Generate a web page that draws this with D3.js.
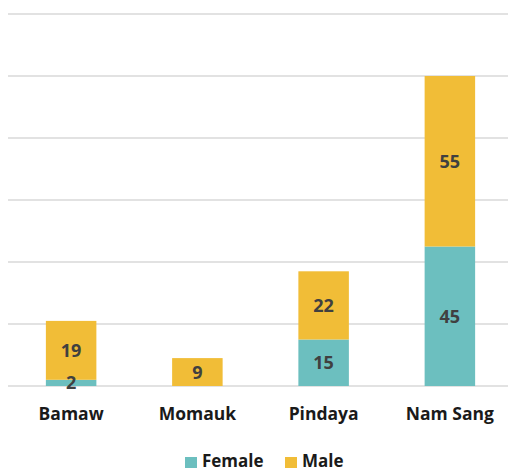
<!DOCTYPE html>
<html>
<head>
<meta charset="utf-8">
<script src="https://cdn.jsdelivr.net/npm/d3@7"></script>
<style>
  body { margin: 0; background: #fff; }
  text { font-family: "Open Sans", sans-serif; font-weight: bold; }
</style>
</head>
<body>
<div id="chart"></div>
<script>
// data
var townships = ["Bamaw", "Momauk", "Pindaya", "Nam Sang"];
var female = [2, 0, 15, 45];
var male = [19, 9, 22, 55];
var seriesNames = ["Female", "Male"];
var yTicks = [0, 20, 40, 60, 80, 100, 120];

var colors = { Female: "#6cbfbf", Male: "#f1bd37" };

var width = 508, height = 471;

var svg = d3.select("#chart")
  .append("svg")
    .attr("width", width)
    .attr("height", height);

var x = d3.scaleBand()
  .domain(townships)
  .range([8, 513])
  .paddingInner(0.6)
  .paddingOuter(0.3);

var y = d3.scaleLinear()
  .domain([0, 120])
  .range([386, 14]);

// gridlines
svg.append("g")
  .selectAll("line")
  .data(yTicks)
  .enter()
  .append("line")
    .attr("x1", 8)
    .attr("x2", width)
    .attr("y1", function(d){ return y(d) })
    .attr("y2", function(d){ return y(d) })
    .attr("stroke", "#d9d9d9")
    .attr("stroke-width", 1.5);

// stack table
var rows = townships.map(function(t, i) {
  return { town: t, Female: female[i], Male: male[i] };
});
var stacked = d3.stack().keys(seriesNames)(rows);

svg.selectAll("g.layer")
  .data(stacked)
  .enter()
  .append("g")
    .attr("class", "layer")
    .attr("fill", function(d){ return colors[d.key] })
  .selectAll("rect")
  .data(function(d){ return d })
  .enter()
  .append("rect")
    .attr("x", function(d){ return x(d.data.town) })
    .attr("width", x.bandwidth())
    .attr("y", function(d){ return y(d[1]) })
    .attr("height", function(d){ return y(d[0]) - y(d[1]) });

// value labels on top of all bars (skip zeros)
svg.selectAll("g.labels")
  .data(stacked)
  .enter()
  .append("g")
    .attr("class", "labels")
  .selectAll("text")
  .data(function(d){ return d.filter(function(p){ return p[1] - p[0] > 0 }) })
  .enter()
  .append("text")
    .attr("x", function(d){ return x(d.data.town) + x.bandwidth() / 2 })
    .attr("y", function(d){ return y((d[0] + d[1]) / 2) })
    .attr("dy", "0.36em")
    .attr("text-anchor", "middle")
    .attr("fill", "#404040")
    .style("font-size", "18px")
    .text(function(d){ return d[1] - d[0] });

// category axis labels
svg.append("g")
  .selectAll("text")
  .data(townships)
  .enter()
  .append("text")
    .attr("x", function(d){ return x(d) + x.bandwidth() / 2 })
    .attr("y", 420)
    .attr("text-anchor", "middle")
    .attr("fill", "#1a1a1a")
    .style("font-size", "17.5px")
    .text(function(d){ return d });

// legend
var legend = svg.append("g");
var legendX = [185, 285];
seriesNames.forEach(function(name, i) {
  legend.append("rect")
    .attr("x", legendX[i])
    .attr("y", 457)
    .attr("width", 12)
    .attr("height", 11)
    .attr("fill", colors[name]);
  legend.append("text")
    .attr("x", legendX[i] + 17)
    .attr("y", 467)
    .attr("fill", "#1a1a1a")
    .style("font-size", "17px")
    .text(name);
});
</script>
</body>
</html>
